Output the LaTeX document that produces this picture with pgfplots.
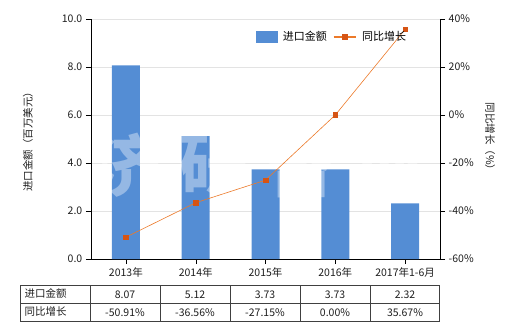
\documentclass[border=0pt]{standalone}
\usepackage{pgfplots}
\pgfplotsset{compat=1.18}
\usepackage{fontspec}
\setmainfont{Noto Sans CJK SC}
\definecolor{barblue}{RGB}{84,141,212}
\definecolor{lineor}{RGB}{236,122,42}
\definecolor{markor}{RGB}{214,84,20}
\definecolor{tabline}{RGB}{64,64,64}
\definecolor{txt}{RGB}{30,30,30}
\tikzset{wm/.style={text=white, text opacity=0.38, font=\fontsize{68}{70}\selectfont\bfseries, inner sep=0pt}}
\begin{document}
\fontsize{10.5}{12}\selectfont
\begin{tikzpicture}[x=1pt,y=1pt]
\useasboundingbox (0,0) rectangle (520,330);
\begin{axis}[
  at={(91pt,71pt)}, anchor=south west, scale only axis,
  width=349pt, height=240pt,
  xmin=-0.5, xmax=4.5, ymin=0, ymax=10,
  xtick={0,1,2,3,4},
  xticklabels={2013年,2014年,2015年,2016年,2017年1-6月},
  ytick={0,2,4,6,8,10},
  /pgf/number format/assume math mode=true,
  yticklabel style={/pgf/number format/.cd,fixed,fixed zerofill,precision=1},
  axis x line*=bottom, axis y line*=left,
  axis line style={-, black},
  tick align=outside, major tick length=5pt,
  tick style={black},
  ymajorgrids, grid style={gray!22},
  ticklabel style={font=\fontsize{10.5}{12}\selectfont, text=txt},
  every axis y label/.style={at={(rel axis cs:0,0.5)},xshift=-63pt,rotate=90,anchor=center},
  ylabel={进口金额（百万美元）},
  label style={font=\fontsize{10.5}{12}\selectfont, text=txt},
]
\addplot[ybar, bar width=28pt, fill=barblue, draw=none] coordinates {(0,8.07) (1,5.12) (2,3.73) (3,3.73) (4,2.32)};
\node[wm] at (rel axis cs:0.106,0.39) {济};
\node[wm] at (rel axis cs:0.350,0.39) {研};
\node[wm] at (rel axis cs:0.599,0.39) {咨};
\node[wm] at (rel axis cs:0.851,0.39) {询};
\end{axis}
\begin{axis}[
  at={(91pt,71pt)}, anchor=south west, scale only axis,
  width=349pt, height=240pt,
  xmin=-0.5, xmax=4.5, ymin=-60, ymax=40,
  ytick={-60,-40,-20,0,20,40},
  /pgf/number format/assume math mode=true,
  yticklabel={\pgfmathprintnumber{\tick}\%},
  axis x line=none, axis y line*=right,
  axis line style={-, black},
  tick align=outside, major tick length=5pt,
  tick style={black},
  ticklabel style={font=\fontsize{10.5}{12}\selectfont, text=txt},
  every axis y label/.style={at={(rel axis cs:1,0.5)},xshift=50pt,rotate=-90,anchor=center},
  ylabel={同比增长（\%）},
  label style={font=\fontsize{10.5}{12}\selectfont, text=txt},
  legend columns=2,
  legend style={at={(0.69,0.925)}, anchor=center, draw=none, fill=none,
    font=\fontsize{11}{12}\selectfont, column sep=4pt},
  legend image code/.code={},
]
\addlegendimage{legend image code/.code={\fill[barblue] (0pt,-5.5pt) rectangle (21pt,5.5pt);}}
\addlegendentry{进口金额}
\addplot[color=lineor, line width=0.6pt, mark=square*, mark size=2.3pt,
  mark options={fill=markor, draw=markor},
  legend image code/.code={\draw[lineor,line width=1.2pt] (0pt,0pt) -- (22pt,0pt); \fill[markor] (8.5pt,-2.3pt) rectangle (13.5pt,2.3pt);}]
  coordinates {(0,-50.91) (1,-36.56) (2,-27.15) (3,0.00) (4,35.67)};
\addlegendentry{同比增长}
\end{axis}
% data table
\draw[tabline, line width=0.8pt] (20,44.5) rectangle (439,9);
\draw[tabline, line width=0.8pt] (20,27) -- (439,27);
\foreach \xx in {90,160,230,300,370} {\draw[tabline, line width=0.8pt] (\xx,44.5) -- (\xx,9);}
\node[anchor=west, text=txt] at (21,36.5) {进口金额};
\node[anchor=west, text=txt] at (21,18.5) {同比增长};
\foreach \xx/\v in {125/8.07,195/5.12,265/3.73,335/3.73,405/2.32} {\node[text=txt] at (\xx,35.5) {\v};}
\foreach \xx/\v in {125/-50.91\%,195/-36.56\%,265/-27.15\%,335/0.00\%,405/35.67\%} {\node[text=txt] at (\xx,17.5) {\v};}
\end{tikzpicture}
\end{document}
